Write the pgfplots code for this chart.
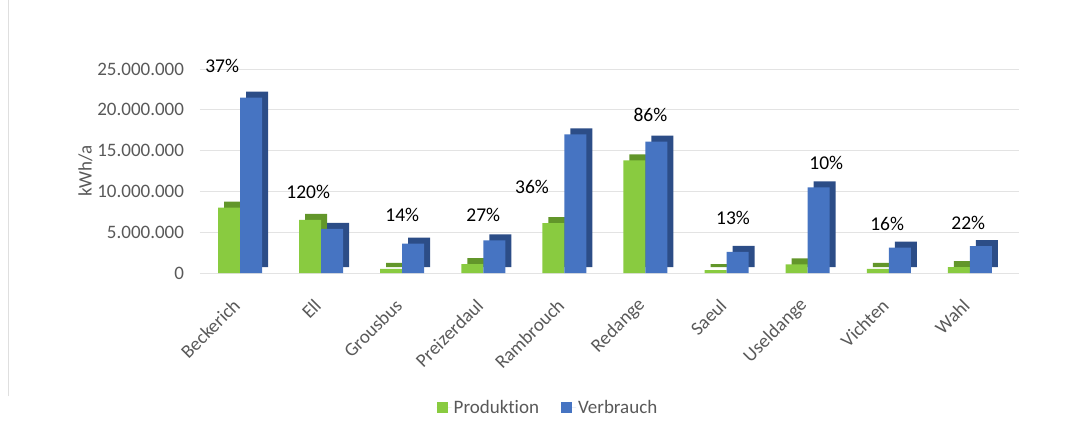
\documentclass[border=0pt]{standalone}
\usepackage{pgfplots}
\pgfplotsset{compat=1.18}
\usepackage{fontspec}
\setmainfont{Carlito}[Ligatures=CommonOff]
\definecolor{prodgreen}{RGB}{137,203,64}
\definecolor{prodside}{RGB}{98,150,42}
\definecolor{verbblue}{RGB}{70,116,194}
\definecolor{verbside}{RGB}{44,77,135}
\definecolor{ticktext}{RGB}{89,89,89}

% Werte in kWh/a
\def\prod{(0,8000000)(1,6500000)(2,500000)(3,1100000)(4,6100000)(5,13800000)(6,340000)(7,1050000)(8,500000)(9,730000)}
\def\verb{(0,21500000)(1,5400000)(2,3600000)(3,4000000)(4,17000000)(5,16100000)(6,2600000)(7,10500000)(8,3100000)(9,3300000)}

\begin{document}
\begin{tikzpicture}
\useasboundingbox (0,0) rectangle (1071pt,426pt);
\draw[gray!25] (8pt,30pt) -- (8pt,426pt);
\begin{axis}[
    at={(199.5pt,153pt)}, anchor=south west,
    scale only axis,
    width=819pt, height=204pt,
    xmin=-0.5, xmax=9.6,
    ymin=0, ymax=25000000,
    clip=false,
    ytick={0,5000000,10000000,15000000,20000000,25000000},
    scaled y ticks=false,
    yticklabel style={xshift=-12pt, /pgf/number format/.cd, fixed, 1000 sep={.}, assume math mode=true},
    xtick={0,...,9},
    xticklabels={Beckerich,Ell,Grousbus,Preizerdaul,Rambrouch,Redange,Saeul,Useldange,Vichten,Wahl},
    xticklabel style={xshift=-1pt, yshift=-27pt, rotate=45, anchor=east},
    tick label style={font=\fontsize{19}{21}\selectfont, text=ticktext},
    major tick length=0pt,
    axis line style={draw=none},
    ymajorgrids=true,
    grid style={gray!22, line width=1pt},
    ylabel={kWh/a},
    ylabel style={font=\fontsize{19}{21}\selectfont, text=ticktext, yshift=-2pt},
    ybar, bar width=22pt,
    legend style={at={(0.4255,-0.66)}, anchor=center, draw=none, legend columns=2,
        font=\fontsize{19}{21}\selectfont, text=ticktext,
        /tikz/every even column/.append style={column sep=20pt}},
    legend image code/.code={\fill[#1] (0pt,-5pt) rectangle (11pt,6pt); \path (0pt,0pt) -- (15pt,0pt);},
]
\addplot[fill=prodside, draw=none, bar shift=-11pt, xshift=6pt, yshift=6pt, forget plot] coordinates {\prod};
\addplot[fill=prodgreen, draw=none, bar shift=-11pt] coordinates {\prod};
\addplot[fill=verbside, draw=none, bar shift=11pt, xshift=6pt, yshift=6pt, forget plot] coordinates {\verb};
\addplot[fill=verbblue, draw=none, bar shift=11pt] coordinates {\verb};
\legend{Produktion,Verbrauch}

\begin{scope}[font=\fontsize{19.5}{21}\selectfont]
\node at (axis cs:-0.22,25400000) {37\%};
\node at (axis cs:0.84,9900000) {120\%};
\node at (axis cs:2,7100000) {14\%};
\node at (axis cs:3,7100000) {27\%};
\node at (axis cs:3.6,10500000) {36\%};
\node at (axis cs:5.06,19400000) {86\%};
\node at (axis cs:6.08,6800000) {13\%};
\node at (axis cs:7.23,13500000) {10\%};
\node at (axis cs:7.98,6000000) {16\%};
\node at (axis cs:8.98,6100000) {22\%};
\end{scope}
\end{axis}
\end{tikzpicture}
\end{document}
